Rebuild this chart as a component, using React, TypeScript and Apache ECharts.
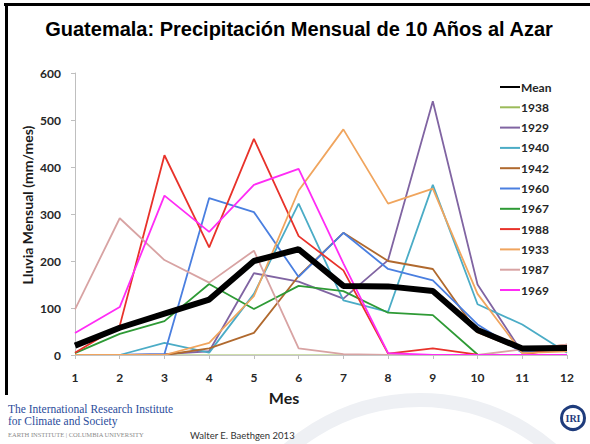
import React, { useEffect, useRef } from "react";
import * as echarts from "echarts";

const months = [1, 2, 3, 4, 5, 6, 7, 8, 9, 10, 11, 12];
const yTicks = [0, 100, 200, 300, 400, 500, 600];

const seriesNames = ["Mean", "1938", "1929", "1940", "1942", "1960", "1967", "1988", "1933", "1987", "1969"];

const mean = [20, 58, 88, 118, 200, 225, 147, 146, 136, 53, 14, 15];
const y1938 = [0, 0, 0, 0, 0, 0, 0, 0, 0, 0, 0, 0];
const y1929 = [0, 0, 2, 8, 174, 156, 120, 202, 540, 150, 5, 12];
const y1940 = [0, 0, 26, 5, 130, 322, 116, 92, 362, 108, 65, 5];
const y1942 = [0, 0, 0, 14, 47, 168, 260, 200, 183, 48, 10, 22];
const y1960 = [0, 0, 2, 334, 304, 166, 260, 183, 159, 65, 5, 12];
const y1967 = [4, 45, 72, 151, 98, 147, 136, 90, 85, 1, 0, 0];
const y1988 = [5, 62, 425, 229, 460, 253, 180, 3, 14, 1, 0, 18];
const y1933 = [0, 0, 0, 26, 125, 350, 480, 322, 354, 130, 4, 8];
const y1987 = [97, 291, 202, 154, 222, 14, 2, 0, 0, 0, 12, 22];
const y1969 = [47, 102, 339, 262, 362, 396, 195, 4, 0, 0, 0, 0];

const seriesValues = [mean, y1938, y1929, y1940, y1942, y1960, y1967, y1988, y1933, y1987, y1969];
const seriesColors = ["#000000", "#9BBB59", "#8064A2", "#4BACC6", "#B0692E", "#4A7FE0", "#2E9A35", "#E8322A", "#F0A55E", "#D8A3A3", "#FF2CF5"];

export default function App() {
  const ref = useRef<HTMLDivElement>(null);
  useEffect(() => {
    if (!ref.current) return;
    const chart = echarts.init(ref.current, null, { renderer: "svg" });
    const axisFont = { fontFamily: "Lato", fontWeight: "bold" as const, fontSize: 12, color: "#262626" };
    const series = seriesNames.map((name, i) => ({
      name,
      type: "line" as const,
      data: months.map((m, j) => [m, seriesValues[i][j]]),
      symbol: "none",
      z: i === 0 ? 5 : i === 1 ? -1 : 2,
      lineStyle: { color: seriesColors[i], width: i === 0 ? 6 : i === 1 ? 1.2 : 1.8 },
      itemStyle: { color: seriesColors[i] },
    }));
    chart.setOption({
      animation: false,
      backgroundColor: "#ffffff",
      grid: { left: 75, right: 23, top: 73, bottom: 89, containLabel: false },
      xAxis: {
        type: "value",
        min: 1,
        max: 12,
        interval: 1,
        z: 3,
        splitLine: { show: false },
        axisLine: { lineStyle: { color: "#C4C4C4", width: 1.2 } },
        axisTick: { show: true, length: 4, lineStyle: { color: "#BFBFBF" } },
        axisLabel: { ...axisFont, margin: 16 },
      },
      yAxis: {
        type: "value",
        min: 0,
        max: 600,
        interval: 100,
        splitLine: { show: false },
        axisLine: { show: true, lineStyle: { color: "#BFBFBF", width: 1 } },
        axisTick: { show: true, length: 4, lineStyle: { color: "#BFBFBF" } },
        axisLabel: { ...axisFont, margin: 14, customValues: yTicks },
      },
      legend: {
        orient: "vertical",
        left: 494,
        top: 76,
        itemWidth: 20,
        itemHeight: 12,
        itemGap: 8.3,
        data: seriesNames,
        itemStyle: { opacity: 0 },
        textStyle: { fontFamily: "Lato", fontWeight: "bold", fontSize: 12, color: "#262626", padding: [0, 0, 0, -4] },
      },
      series,
      graphic: [
        { type: "rect", shape: { x: 4, y: 3, width: 590, height: 3 }, style: { fill: "#000" } },
        { type: "rect", shape: { x: 5, y: 3, width: 3, height: 392 }, style: { fill: "#000" } },
        {
          type: "arc",
          shape: { cx: 420, cy: 600, r: 200, startAngle: Math.PI * 1.15, endAngle: Math.PI * 1.85 },
          style: { stroke: "#EEF0F4", lineWidth: 14, fill: "none" },
          z: -10,
        },
        {
          type: "text",
          x: 299,
          y: 29,
          style: {
            text: "Guatemala: Precipitación Mensual de 10 Años al Azar",
            fontFamily: "Liberation Sans",
            fontWeight: "bold",
            fontSize: 20,
            fill: "#000",
            align: "center",
            verticalAlign: "middle",
          },
        },
        {
          type: "text",
          x: 27,
          y: 205,
          rotation: Math.PI / 2,
          style: {
            text: "Lluvia Mensual (mm/mes)",
            fontFamily: "Lato",
            fontWeight: "bold",
            fontSize: 14,
            fill: "#1a1a1a",
            align: "center",
            verticalAlign: "middle",
          },
        },
        {
          type: "text",
          x: 284,
          y: 397,
          style: {
            text: "Mes",
            fontFamily: "Lato",
            fontWeight: "bold",
            fontSize: 16,
            fill: "#1a1a1a",
            align: "center",
            verticalAlign: "middle",
          },
        },
        {
          type: "text",
          x: 8,
          y: 409,
          style: { text: "The International Research Institute", fontFamily: "Liberation Serif", fontSize: 11.5, fill: "#2B4C9B", verticalAlign: "middle" },
        },
        {
          type: "text",
          x: 8,
          y: 421,
          style: { text: "for Climate and Society", fontFamily: "Liberation Serif", fontSize: 11.5, fill: "#2B4C9B", verticalAlign: "middle" },
        },
        {
          type: "text",
          x: 8,
          y: 434,
          style: { text: "EARTH INSTITUTE | COLUMBIA UNIVERSITY", fontFamily: "Liberation Serif", fontSize: 6.5, fill: "#8A8A8A", verticalAlign: "middle" },
        },
        {
          type: "text",
          x: 190,
          y: 435,
          style: { text: "Walter E. Baethgen 2013", fontFamily: "Lato", fontSize: 9.5, fill: "#333", verticalAlign: "middle" },
        },
        { type: "circle", shape: { cx: 573, cy: 418, r: 11.5 }, style: { fill: "#fff", stroke: "#1F3C7C", lineWidth: 3 } },
        {
          type: "text",
          x: 573,
          y: 418,
          style: { text: "IRI", fontFamily: "Liberation Serif", fontWeight: "bold", fontSize: 10, fill: "#1F3C7C", align: "center", verticalAlign: "middle" },
        },
      ],
    });
    return () => chart.dispose();
  }, []);
  return <div ref={ref} style={{ position: "absolute", left: 0, top: 0, width: 590, height: 444 }} />;
}
